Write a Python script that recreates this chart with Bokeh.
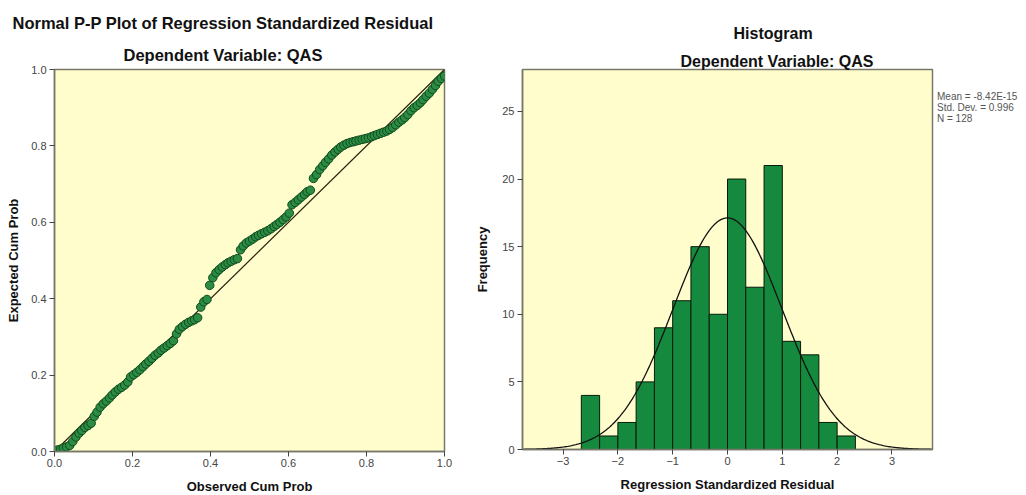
from bokeh.plotting import figure
from bokeh.models import (Title, FixedTicker, PrintfTickFormatter, Range1d,
                          ColumnDataSource, Legend, LegendItem)
from bokeh.layouts import row
from bokeh.embed import file_html
from bokeh.resources import INLINE
import numpy as np

FONT = "Liberation Sans"

# ---------------- data: Normal P-P plot ----------------
observed_cum_prob = [
    0.008, 0.016, 0.023, 0.031, 0.039, 0.047, 0.055, 0.063, 0.070, 0.078,
    0.086, 0.094, 0.102, 0.109, 0.117, 0.125, 0.133, 0.141, 0.148, 0.156,
    0.164, 0.172, 0.180, 0.188, 0.195, 0.203, 0.211, 0.219, 0.227, 0.234,
    0.242, 0.250, 0.258, 0.266, 0.273, 0.281, 0.289, 0.297, 0.305, 0.313,
    0.320, 0.328, 0.336, 0.344, 0.352, 0.359, 0.367, 0.375, 0.383, 0.391,
    0.398, 0.406, 0.414, 0.422, 0.430, 0.438, 0.445, 0.453, 0.461, 0.469,
    0.477, 0.484, 0.492, 0.500, 0.508, 0.516, 0.523, 0.531, 0.539, 0.547,
    0.555, 0.563, 0.570, 0.578, 0.586, 0.594, 0.602, 0.609, 0.617, 0.625,
    0.633, 0.641, 0.648, 0.656, 0.664, 0.672, 0.680, 0.688, 0.695, 0.703,
    0.711, 0.719, 0.727, 0.734, 0.742, 0.750, 0.758, 0.766, 0.773, 0.781,
    0.789, 0.797, 0.805, 0.813, 0.820, 0.828, 0.836, 0.844, 0.852, 0.859,
    0.867, 0.875, 0.883, 0.891, 0.898, 0.906, 0.914, 0.922, 0.930, 0.938,
    0.945, 0.953, 0.961, 0.969, 0.977, 0.984, 0.992, 1.000,
]
expected_cum_prob = [
    0.004, 0.006, 0.009, 0.012, 0.016, 0.026, 0.038, 0.048, 0.055, 0.063,
    0.068, 0.074, 0.092, 0.103, 0.116, 0.125, 0.132, 0.140, 0.148, 0.156,
    0.163, 0.168, 0.174, 0.182, 0.195, 0.201, 0.207, 0.214, 0.222, 0.229,
    0.236, 0.244, 0.252, 0.258, 0.265, 0.271, 0.277, 0.283, 0.290, 0.308,
    0.320, 0.327, 0.333, 0.338, 0.342, 0.345, 0.350, 0.378, 0.392, 0.398,
    0.435, 0.455, 0.468, 0.476, 0.483, 0.489, 0.494, 0.498, 0.502, 0.505,
    0.528, 0.538, 0.546, 0.551, 0.556, 0.562, 0.566, 0.570, 0.574, 0.578,
    0.583, 0.589, 0.594, 0.600, 0.607, 0.614, 0.624, 0.646, 0.652, 0.659,
    0.666, 0.673, 0.680, 0.684, 0.715, 0.725, 0.738, 0.748, 0.757, 0.766,
    0.776, 0.784, 0.791, 0.797, 0.802, 0.806, 0.809, 0.811, 0.813, 0.815,
    0.817, 0.819, 0.821, 0.824, 0.827, 0.830, 0.833, 0.836, 0.839, 0.843,
    0.848, 0.855, 0.862, 0.868, 0.874, 0.882, 0.892, 0.900, 0.906, 0.913,
    0.921, 0.930, 0.938, 0.948, 0.958, 0.969, 0.977, 0.983,
]
diag = [0.0, 1.0]
pp_ticks = [0.0, 0.2, 0.4, 0.6, 0.8, 1.0]

# ---------------- data: Histogram ----------------
bin_left = [-2.667, -2.333, -2.0, -1.667, -1.333, -1.0, -0.667, -0.333,
            0.0, 0.333, 0.667, 1.0, 1.333, 1.667, 2.0]
bin_right = [-2.333, -2.0, -1.667, -1.333, -1.0, -0.667, -0.333, 0.0,
             0.333, 0.667, 1.0, 1.333, 1.667, 2.0, 2.333]
frequency = [4, 1, 2, 5, 9, 11, 15, 10, 20, 12, 21, 8, 7, 2, 1]
res_mean = -8.42e-15
res_sd = 0.996
res_n = 128
hist_xticks = [-3, -2, -1, 0, 1, 2, 3]
hist_yticks = [0, 5, 10, 15, 20, 25]

BG = "#FFFDCC"
FRAME = "#77776a"
TICKC = "#444444"


def style_axes(p):
    for ax in (p.xaxis[0], p.yaxis[0]):
        ax.axis_line_color = FRAME
        ax.axis_line_width = 1.5
        ax.major_tick_line_color = TICKC
        ax.major_tick_in = 0
        ax.major_tick_out = 5
        ax.minor_tick_line_color = None
        ax.major_label_text_font = FONT
        ax.major_label_text_font_size = "11px"
        ax.major_label_text_color = TICKC
        ax.axis_label_text_font = FONT
        ax.axis_label_text_font_size = "13px"
        ax.axis_label_text_font_style = "bold"
        ax.axis_label_text_color = "#111111"
    p.xaxis[0].major_label_standoff = 2
    p.yaxis[0].major_label_standoff = 3
    p.xaxis[0].axis_label_standoff = 9
    p.yaxis[0].axis_label_standoff = 7
    p.xgrid.visible = False
    p.ygrid.visible = False
    p.outline_line_color = FRAME
    p.outline_line_width = 1.5


def add_title(p, text, size, offset, standoff):
    p.add_layout(Title(text=text, align="left", offset=offset, text_font=FONT,
                       text_font_size=size, text_font_style="bold",
                       text_color="#111111", standoff=standoff), "above")


# ---------------- left: P-P plot ----------------
p1 = figure(frame_width=390, frame_height=382,
            x_range=Range1d(0, 1), y_range=Range1d(0, 1),
            output_backend="svg", toolbar_location=None,
            min_border_left=54, min_border_right=26,
            min_border_top=69, min_border_bottom=44,
            background_fill_color=BG, border_fill_color="white",
            x_axis_label="Observed Cum Prob", y_axis_label="Expected Cum Prob")
add_title(p1, "Dependent Variable: QAS", "16.5px", 69, 12)
add_title(p1, "Normal P-P Plot of Regression Standardized Residual", "16.5px", -42, 11)
style_axes(p1)
p1.xaxis[0].ticker = FixedTicker(ticks=pp_ticks)
p1.yaxis[0].ticker = FixedTicker(ticks=pp_ticks)
p1.xaxis[0].formatter = PrintfTickFormatter(format="%.1f")
p1.yaxis[0].formatter = PrintfTickFormatter(format="%.1f")

p1.line(diag, diag, line_color="#2a2210", line_width=1.2)
src_pp = ColumnDataSource(dict(x=observed_cum_prob, y=expected_cum_prob))
p1.scatter("x", "y", source=src_pp, size=8.5, fill_color="#2c8c44",
           line_color="#0f4a1c", line_width=1)

# ---------------- right: Histogram ----------------
p2 = figure(frame_width=410, frame_height=380,
            x_range=Range1d(-3.74, 3.74), y_range=Range1d(0, 28.1),
            output_backend="svg", toolbar_location=None,
            min_border_left=52, min_border_right=94,
            min_border_top=69, min_border_bottom=46,
            background_fill_color=BG, border_fill_color="white",
            x_axis_label="Regression Standardized Residual", y_axis_label="Frequency")
add_title(p2, "Dependent Variable: QAS", "16px", 158, 0)
add_title(p2, "Histogram", "16px", 211, 18)
style_axes(p2)
p2.xaxis[0].ticker = FixedTicker(ticks=hist_xticks)
p2.yaxis[0].ticker = FixedTicker(ticks=hist_yticks)
p2.yaxis[0].axis_label_standoff = 9

src_h = ColumnDataSource(dict(left=bin_left, right=bin_right, top=frequency,
                              bottom=[0] * len(frequency)))
p2.quad(left="left", right="right", top="top", bottom="bottom", source=src_h,
        fill_color="#15893d", line_color="#0a1a0a", line_width=1)

bw = bin_right[0] - bin_left[0]
xs = np.linspace(-3.74, 3.74, 300)
ys = res_n * bw * np.exp(-0.5 * ((xs - res_mean) / res_sd) ** 2) / (res_sd * np.sqrt(2 * np.pi))
p2.line(xs, ys, line_color="#111111", line_width=1.3)

# statistics box (outside the plot area, right side)
stats = ["Mean = %.2E" % res_mean, "Std. Dev. = %.3f" % res_sd, "N = %d" % res_n]
dummy = p2.scatter(x=[], y=[], fill_alpha=0, line_alpha=0)
stat_legend = Legend(items=[LegendItem(label=t, renderers=[dummy]) for t in stats],
                     location=(5, 325), orientation="vertical",
                     glyph_width=0, glyph_height=8, label_height=8,
                     label_standoff=0, spacing=0, padding=2, margin=0,
                     border_line_color=None, background_fill_alpha=0,
                     label_text_font=FONT, label_text_font_size="10px",
                     label_text_color="#555555")
p2.add_layout(stat_legend, "right")

layout = row(p1, p2)
open("out.html", "w").write(file_html(layout, INLINE))
